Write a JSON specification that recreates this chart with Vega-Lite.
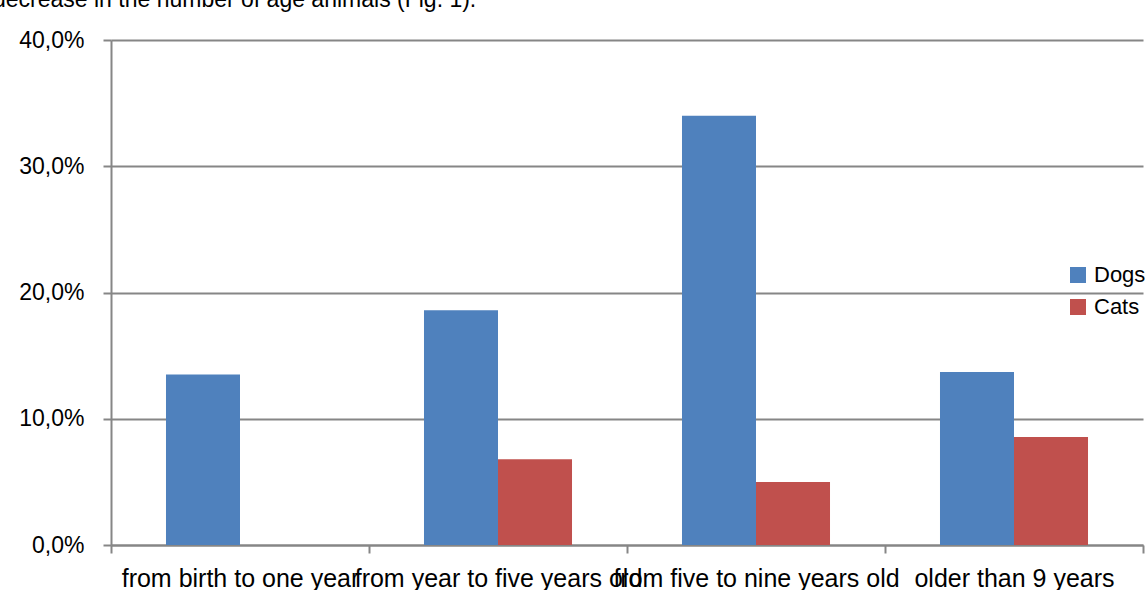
{
  "$schema": "https://vega.github.io/schema/vega-lite/v6.json",
  "autosize": {"type": "none"},
  "width": 1032,
  "height": 505,
  "padding": {"left": 111, "top": 40, "right": 2, "bottom": 45},
  "background": "white",
  "config": {
    "locale": {"number": {"decimal": ",", "thousands": ".", "grouping": [3], "currency": ["", "€"]}},
    "view": {"stroke": null},
    "font": "Liberation Sans"
  },
  "title": {
    "text": "decrease in the number of age animals (Fig. 1).",
    "anchor": "start",
    "frame": "group",
    "baseline": "alphabetic",
    "offset": -1,
    "dx": -118,
    "font": "Liberation Sans",
    "fontSize": 23,
    "fontWeight": "normal",
    "color": "black"
  },
  "data": {
    "values": [
      {"age": "from birth to one year", "animal": "Dogs", "share": 0.135},
      {"age": "from birth to one year", "animal": "Cats", "share": 0.0},
      {"age": "from year to five years old", "animal": "Dogs", "share": 0.186},
      {"age": "from year to five years old", "animal": "Cats", "share": 0.068},
      {"age": "from five to nine years old", "animal": "Dogs", "share": 0.34},
      {"age": "from five to nine years old", "animal": "Cats", "share": 0.05},
      {"age": "older than 9 years", "animal": "Dogs", "share": 0.137},
      {"age": "older than 9 years", "animal": "Cats", "share": 0.0855}
    ]
  },
  "mark": {"type": "bar"},
  "encoding": {
    "x": {
      "field": "age",
      "type": "nominal",
      "sort": ["from birth to one year", "from year to five years old", "from five to nine years old", "older than 9 years"],
      "scale": {"paddingInner": 0, "paddingOuter": 0},
      "axis": {
        "title": null,
        "labelAngle": 0,
        "labelOverlap": false,
        "labelBound": false,
        "labelLimit": 0,
        "labelFontSize": 25,
        "labelColor": "black",
        "labelPadding": 13,
        "tickBand": "extent",
        "tickSize": 8,
        "tickColor": "#868686",
        "tickWidth": 2,
        "domainColor": "#868686",
        "domainWidth": 2,
        "grid": false
      }
    },
    "xOffset": {
      "field": "animal",
      "type": "nominal",
      "sort": ["Dogs", "Cats"],
      "scale": {"paddingInner": 0, "paddingOuter": 0.743}
    },
    "y": {
      "field": "share",
      "type": "quantitative",
      "scale": {"domain": [0, 0.4]},
      "axis": {
        "title": null,
        "format": ".1%",
        "values": [0, 0.1, 0.2, 0.3, 0.4],
        "labelOverlap": false,
        "labelFontSize": 23,
        "labelColor": "black",
        "labelPadding": 19,
        "tickSize": 8,
        "tickColor": "#868686",
        "tickWidth": 2,
        "domainColor": "#868686",
        "domainWidth": 2,
        "gridColor": "#868686",
        "gridWidth": 2
      }
    },
    "color": {
      "field": "animal",
      "type": "nominal",
      "sort": ["Dogs", "Cats"],
      "scale": {"domain": ["Dogs", "Cats"], "range": ["#4F81BD", "#C0504D"]},
      "legend": {
        "title": null,
        "orient": "none",
        "legendX": 956,
        "legendY": 224,
        "symbolType": "square",
        "symbolSize": 256,
        "symbolStrokeWidth": 0,
        "symbolOpacity": 1,
        "labelFontSize": 22,
        "labelColor": "black",
        "labelOffset": 5,
        "rowPadding": 10
      }
    }
  }
}
